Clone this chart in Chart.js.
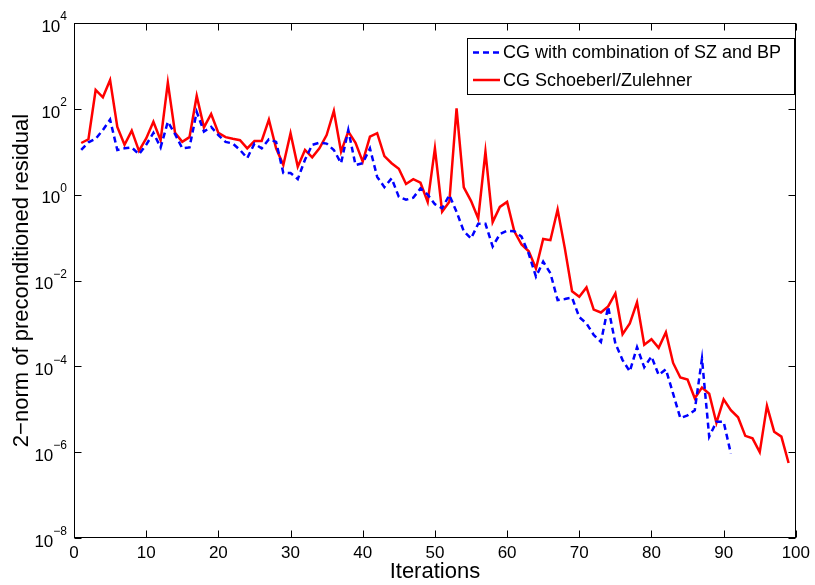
<!DOCTYPE html>
<html>
<head>
<meta charset="utf-8">
<script src="https://cdn.jsdelivr.net/npm/chart.js@4/dist/chart.umd.min.js"></script>
<style>
  body { margin: 0; background: #fff; }
  canvas { display: block; }
</style>
</head>
<body>
<canvas id="myChart" width="815" height="585"></canvas>
<script>
const ctx = document.getElementById("myChart")

// iteration numbers on the x axis
const iterations = [
  1, 2, 3, 4, 5, 6, 7, 8, 9, 10, 11, 12, 13, 14, 15, 16, 17, 18, 19, 20,
  21, 22, 23, 24, 25, 26, 27, 28, 29, 30, 31, 32, 33, 34, 35, 36, 37, 38, 39, 40,
  41, 42, 43, 44, 45, 46, 47, 48, 49, 50, 51, 52, 53, 54, 55, 56, 57, 58, 59, 60,
  61, 62, 63, 64, 65, 66, 67, 68, 69, 70, 71, 72, 73, 74, 75, 76, 77, 78, 79, 80,
  81, 82, 83, 84, 85, 86, 87, 88, 89, 90, 91, 92, 93, 94, 95, 96, 97, 98, 99
]

// residual norms, CG with combination of SZ and BP (91 iterations)
const residualCombined = [
  11, 16.6, 20, 32, 56, 11, 12, 12.6, 8.7, 14.5,
  27.5, 12.6, 50, 25.7, 12, 12.6, 85, 29.5, 38, 24.5,
  17, 15.5, 11, 7.1, 15.5, 12, 19.5, 17, 3.2, 3.2,
  2.3, 6.5, 14.5, 16.2, 15.5, 11, 5.4, 32, 4.9, 5.4,
  12, 2.6, 1.5, 2.4, 0.89, 0.76, 0.85, 1.4, 1.0, 0.60,
  0.48, 0.98, 0.40, 0.14, 0.095, 0.21, 0.21, 0.062, 0.12, 0.145,
  0.14, 0.105, 0.042, 0.0123, 0.0275, 0.0148, 0.0035, 0.0037, 0.0040, 0.0014,
  0.0010, 5.4e-4, 3.7e-4, 2.45e-3, 3.4e-4, 1.4e-4, 7.6e-5, 2.8e-4, 9.5e-5, 1.7e-4,
  6.3e-5, 8.5e-5, 2.3e-5, 6.2e-6, 7.2e-6, 9.5e-6, 1.5e-4, 2.3e-6, 5.1e-6, 5.1e-6,
  9.3e-7
]

// residual norms, CG Schoeberl/Zulehner (99 iterations)
const residualSchoeberl = [
  16, 19.5, 275, 186, 468, 38, 14.5, 31, 10.5, 20.4,
  50, 18.6, 407, 27.5, 17, 21.9, 200, 37, 76, 27.5,
  21.9, 20, 18.6, 12, 17.8, 17.8, 56, 12, 4.9, 27,
  4.5, 11, 7.4, 12, 24.5, 89, 10, 29.5, 16.2, 5.9,
  22.4, 27, 7.9, 5.4, 4.0, 1.78, 2.3, 1.9, 0.68, 12,
  0.40, 0.68, 102, 1.48, 0.72, 0.28, 10, 0.23, 0.52, 0.68,
  0.14, 0.069, 0.048, 0.019, 0.093, 0.087, 0.45, 0.056, 0.0056, 0.0042,
  0.0069, 0.0021, 0.0018, 0.0025, 0.0050, 5.6e-4, 1.0e-3, 3.1e-3, 3.2e-4, 4.3e-4,
  2.7e-4, 6.2e-4, 1.2e-4, 5.5e-5, 4.9e-5, 1.8e-5, 3.2e-5, 2.3e-5, 4.8e-6, 1.7e-5,
  9.5e-6, 6.5e-6, 2.4e-6, 2.1e-6, 1.0e-6, 1.2e-5, 3.0e-6, 2.3e-6, 5.6e-7
]

const seriesNames = ['CG with combination of SZ and BP', 'CG Schoeberl/Zulehner']

// ticks: decades shown on y, steps of 10 on x
const yTickPowers = [-8, -6, -4, -2, 0, 2, 4]
const xTickValues = [0, 10, 20, 30, 40, 50, 60, 70, 80, 90, 100]

const fontFamily = '"Liberation Sans", Arial, Helvetica, sans-serif'

function toPoints(values) {
  return values.map((v, i) => ({ x: iterations[i], y: v }))
}

// box around the axes, inward tick marks, 10^n labels and the legend
const matlabFrame = {
  id: 'matlabFrame',
  afterDatasetsDraw(chart) {
    const { ctx, chartArea: a, scales: { x, y } } = chart
    const L = Math.round(a.left) + 0.5
    const R = Math.round(a.right) - 0.5
    const T = Math.round(a.top) + 0.5
    const B = Math.round(a.bottom) - 0.5
    const tick = 7

    ctx.save()
    ctx.strokeStyle = '#000'
    ctx.lineWidth = 1
    ctx.setLineDash([])
    ctx.strokeRect(L, T, R - L, B - T)

    ctx.beginPath()
    xTickValues.forEach(v => {
      const px = Math.round(x.getPixelForValue(v)) + 0.5
      ctx.moveTo(px, B); ctx.lineTo(px, B - tick)
      ctx.moveTo(px, T); ctx.lineTo(px, T + tick)
    })
    yTickPowers.forEach(p => {
      const py = Math.round(y.getPixelForValue(Math.pow(10, p))) + 0.5
      ctx.moveTo(L, py); ctx.lineTo(L + tick, py)
      ctx.moveTo(R, py); ctx.lineTo(R - tick, py)
    })
    ctx.stroke()

    // y tick labels as 10 with a raised exponent
    ctx.fillStyle = '#000'
    yTickPowers.forEach(p => {
      const py = y.getPixelForValue(Math.pow(10, p))
      const exp = p < 0 ? '\u2212' + Math.abs(p) : String(p)
      ctx.font = '12px ' + fontFamily
      const expW = ctx.measureText(exp).width
      const baseRight = a.left - 7 - expW
      ctx.textBaseline = 'middle'
      ctx.textAlign = 'left'
      ctx.fillText(exp, baseRight, py - 6)
      ctx.font = '17px ' + fontFamily
      ctx.textAlign = 'right'
      ctx.fillText('10', baseRight, py + 4)
    })

    // legend
    const box = { left: 467.5, top: 38.5, width: 327, height: 56 }
    ctx.fillStyle = '#fff'
    ctx.fillRect(box.left, box.top, box.width, box.height)
    ctx.strokeStyle = '#000'
    ctx.lineWidth = 1
    ctx.strokeRect(box.left, box.top, box.width, box.height)
    const rowY = [52.5, 80]
    chart.data.datasets.forEach((ds, i) => {
      ctx.strokeStyle = ds.borderColor
      ctx.lineWidth = ds.borderWidth
      ctx.setLineDash(ds.borderDash || [])
      ctx.beginPath()
      ctx.moveTo(473, rowY[i])
      ctx.lineTo(500, rowY[i])
      ctx.stroke()
      ctx.setLineDash([])
      ctx.fillStyle = '#000'
      ctx.font = '18px ' + fontFamily
      ctx.textAlign = 'left'
      ctx.textBaseline = 'middle'
      ctx.fillText(ds.label, 503, rowY[i] + 1)
    })
    ctx.restore()
  }
}

const data = {
  datasets: [
    {
      label: seriesNames[0],
      data: toPoints(residualCombined),
      borderColor: 'rgb(0, 0, 255)',
      backgroundColor: 'rgb(0, 0, 255)',
      borderWidth: 2.5,
      borderDash: [6, 4],
      pointRadius: 0,
      tension: 0
    },
    {
      label: seriesNames[1],
      data: toPoints(residualSchoeberl),
      borderColor: 'rgb(255, 0, 0)',
      backgroundColor: 'rgb(255, 0, 0)',
      borderWidth: 2.5,
      pointRadius: 0,
      tension: 0
    }
  ]
}

const config = {
  type: 'line',
  data: data,
  options: {
    responsive: false,
    animation: false,
    events: [],
    layout: {
      padding: { top: 23, right: 18, left: 0, bottom: 0 }
    },
    plugins: {
      legend: { display: false },
      tooltip: { enabled: false }
    },
    scales: {
      x: {
        type: 'linear',
        min: 0,
        max: 100,
        grid: { display: false, drawTicks: false },
        border: { display: false },
        afterBuildTicks: scale => {
          scale.ticks = xTickValues.map(v => ({ value: v }))
        },
        afterFit: scale => { scale.height = 47 },
        ticks: {
          color: '#000',
          padding: 5,
          maxRotation: 0,
          autoSkip: false,
          font: { family: fontFamily, size: 17 }
        },
        title: {
          display: true,
          text: 'Iterations',
          color: '#000',
          padding: { top: 0, bottom: 0 },
          font: { family: fontFamily, size: 22 }
        }
      },
      y: {
        type: 'logarithmic',
        min: 1e-8,
        max: 1e4,
        grid: { display: false, drawTicks: false },
        border: { display: false },
        afterBuildTicks: scale => {
          scale.ticks = yTickPowers.map(p => ({ value: Math.pow(10, p) }))
        },
        afterFit: scale => { scale.width = 74 },
        ticks: { display: false },
        title: {
          display: true,
          text: '2\u2212norm of preconditioned residual',
          color: '#000',
          padding: { top: 9, bottom: 0 },
          font: { family: fontFamily, size: 22 }
        }
      }
    }
  },
  plugins: [matlabFrame]
}

const myChart = new Chart(ctx, config)
</script>
</body>
</html>
